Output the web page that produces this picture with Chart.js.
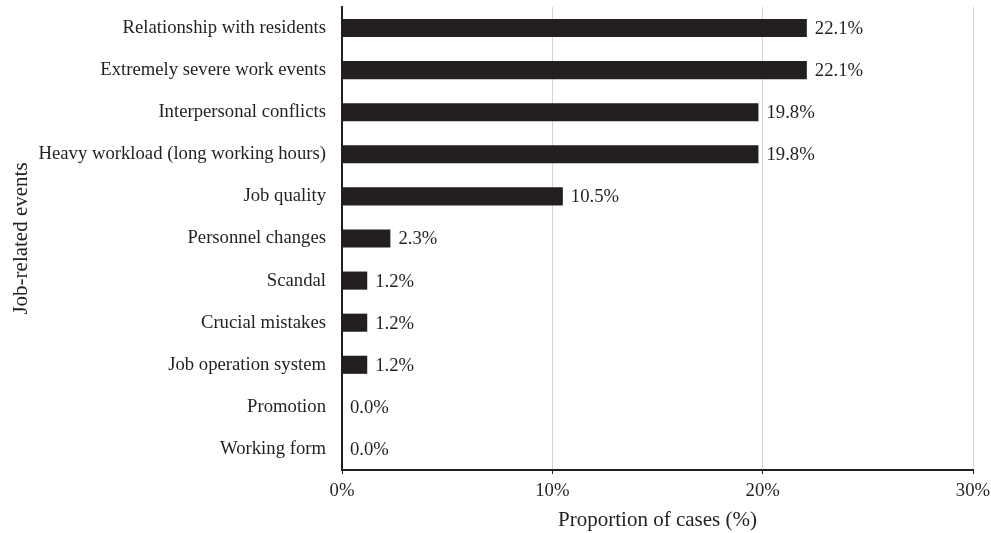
<!DOCTYPE html>
<html>
<head>
<meta charset="utf-8">
<script src="https://cdn.jsdelivr.net/npm/chart.js@4.4.1/dist/chart.umd.min.js"></script>
<style>
  html, body { margin: 0; padding: 0; background: #fff; }
</style>
</head>
<body>
<canvas id="grafico" width="991" height="533"></canvas>
<script>
// datos
const categorias = [
    'Relationship with residents',
    'Extremely severe work events',
    'Interpersonal conflicts',
    'Heavy workload (long working hours)',
    'Job quality',
    'Personnel changes',
    'Scandal',
    'Crucial mistakes',
    'Job operation system',
    'Promotion',
    'Working form'
];
const proporciones = [22.1, 22.1, 19.8, 19.8, 10.5, 2.3, 1.2, 1.2, 1.2, 0.0, 0.0];
const ticksX = [0, 10, 20, 30];

const familia = '"Liberation Serif", "Times New Roman", serif';
const fuente = { family: familia, size: 18.7 };
const fuenteTitulo = { family: familia, size: 21 };

// etiquetas de valor al final de cada barra
const etiquetas = {
    id: 'etiquetas',
    afterDatasetsDraw(chart) {
        const ctx = chart.ctx;
        const meta = chart.getDatasetMeta(0);
        ctx.save();
        ctx.font = fuente.size + 'px ' + fuente.family;
        ctx.fillStyle = '#231f20';
        ctx.textAlign = 'left';
        ctx.textBaseline = 'middle';
        meta.data.forEach((bar, i) => {
            ctx.fillText(proporciones[i].toFixed(1) + '%', bar.x + 8, bar.y + 1);
        });
        ctx.restore();
    }
};

const ctx = document.getElementById('grafico').getContext('2d');
new Chart(ctx, {
    type: 'bar',
    data: {
        labels: categorias,
        datasets: [{
            data: proporciones,
            backgroundColor: '#231f20',
            borderWidth: 0,
            barPercentage: 0.86,
            categoryPercentage: 0.5
        }]
    },
    options: {
        indexAxis: 'y',
        responsive: false,
        animation: false,
        layout: { padding: { top: 7, right: 18, left: 0, bottom: 0 } },
        plugins: {
            legend: { display: false },
            tooltip: { enabled: false }
        },
        scales: {
            x: {
                min: 0,
                max: 30,
                afterBuildTicks: (scale) => { scale.ticks = ticksX.map(v => ({ value: v })); },
                afterFit: (scale) => {
                    scale.height = 63;
                    scale.paddingLeft = 0;
                    scale.paddingRight = 0;
                },
                grid: {
                    color: '#d4d4d4',
                    lineWidth: 1,
                    tickColor: '#231f20',
                    tickLength: 4,
                    drawTicks: true
                },
                border: { color: '#231f20', width: 2 },
                ticks: {
                    color: '#231f20',
                    font: fuente,
                    padding: 6,
                    callback: (v) => v + '%'
                },
                title: {
                    display: true,
                    text: 'Proportion of cases (%)',
                    color: '#231f20',
                    font: fuenteTitulo,
                    padding: { top: 0, bottom: 0 }
                }
            },
            y: {
                afterFit: (scale) => {
                    scale.width = 342;
                    scale.paddingTop = 0;
                    scale.paddingBottom = 0;
                },
                grid: { display: false, drawTicks: false },
                border: { color: '#231f20', width: 2 },
                ticks: {
                    color: '#231f20',
                    font: fuente,
                    padding: 16,
                    autoSkip: false
                },
                title: {
                    display: true,
                    text: 'Job-related events',
                    color: '#231f20',
                    font: fuenteTitulo,
                    padding: { top: 9, bottom: 0 }
                }
            }
        }
    },
    plugins: [etiquetas]
});
</script>
</body>
</html>
